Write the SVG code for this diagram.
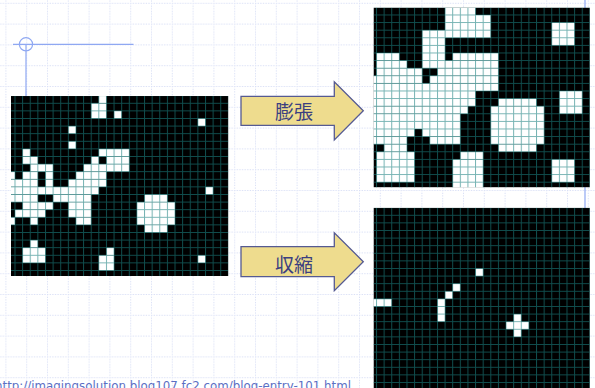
<svg xmlns="http://www.w3.org/2000/svg" width="595" height="388" viewBox="0 0 595 388">
<style>
.bk{fill:#000}
.w rect{fill:#fff}
.gl{fill:url(#gl)}
.arr{fill:#eedc8e;stroke:#555a92;stroke-width:1.3;stroke-linejoin:miter}
.lbl{font-family:"Noto Sans CJK JP","Noto Sans CJK SC",sans-serif;font-size:19px;fill:#3b3f80;text-anchor:middle}
.url{font-family:"DejaVu Sans",Verdana,sans-serif;font-size:11.8px;fill:#5b6fc4}
.blue{stroke:#8fa8f2;stroke-width:1.2;fill:none}
</style>
<defs>
<pattern id="bg" patternUnits="userSpaceOnUse" x="5.4" y="2.8" width="20.8" height="20.8">
<path d="M0.5 0V20.8M0 0.5H20.8" stroke="#d9e0f6" stroke-width="1" stroke-dasharray="1.3 1.3" fill="none"/>
</pattern>
<pattern id="gl" patternUnits="userSpaceOnUse" x="-0.5" y="-0.5" width="7.62" height="7.6">
<path d="M0.5 0V7.6M0 0.5H7.62" stroke="#1a8080" stroke-opacity="0.6" stroke-width="1" fill="none"/>
</pattern>
<clipPath id="cL"><rect x="3.62" y="0.3" width="217.4" height="180"/></clipPath>
<clipPath id="cT"><rect x="4.6" y="0.2" width="216.4" height="179.8"/></clipPath>
<clipPath id="cB"><rect x="4.6" y="0" width="216.4" height="181"/></clipPath>
</defs>
<rect width="595" height="388" fill="#fff"/>
<rect width="595" height="388" fill="url(#bg)"/>
<g id="guides">
<path class="blue" d="M13 44.3H133.5M26 44.3V97M585 0V388"/>
<circle class="blue" cx="26" cy="44.3" r="6.6"/>
</g>
<g id="original" transform="translate(7.38,95.7)" clip-path="url(#cL)">
<rect class="bk" x="3.62" y="0.3" width="217.4" height="180"/>
<g class="w" transform="scale(7.62,7.6)">
<rect x="12" y="0" width="1" height="1"/>
<rect x="11" y="1" width="2" height="2"/>
<rect x="14" y="2" width="1" height="1"/>
<rect x="25" y="3" width="1" height="1"/>
<rect x="8" y="4" width="1" height="1"/>
<rect x="8" y="6" width="1" height="1"/>
<rect x="2" y="7" width="1" height="1"/>
<rect x="12" y="7" width="4" height="1"/>
<rect x="2" y="8" width="2" height="1"/>
<rect x="11" y="8" width="1" height="1"/>
<rect x="13" y="8" width="3" height="1"/>
<rect x="3" y="9" width="3" height="1"/>
<rect x="10" y="9" width="6" height="1"/>
<rect x="0" y="10" width="1" height="1"/>
<rect x="2" y="10" width="2" height="1"/>
<rect x="5" y="10" width="1" height="1"/>
<rect x="9" y="10" width="4" height="1"/>
<rect x="0" y="11" width="4" height="1"/>
<rect x="5" y="11" width="1" height="1"/>
<rect x="8" y="11" width="5" height="1"/>
<rect x="0" y="12" width="12" height="1"/>
<rect x="26" y="12" width="1" height="1"/>
<rect x="0" y="13" width="4" height="1"/>
<rect x="6" y="13" width="5" height="1"/>
<rect x="18" y="13" width="3" height="1"/>
<rect x="2" y="14" width="4" height="1"/>
<rect x="8" y="14" width="3" height="2"/>
<rect x="17" y="14" width="5" height="3"/>
<rect x="1" y="15" width="4" height="1"/>
<rect x="0" y="16" width="1" height="1"/>
<rect x="3" y="16" width="1" height="1"/>
<rect x="9" y="16" width="2" height="1"/>
<rect x="18" y="17" width="3" height="1"/>
<rect x="3" y="19" width="1" height="1"/>
<rect x="2" y="20" width="3" height="2"/>
<rect x="13" y="20" width="1" height="1"/>
<rect x="12" y="21" width="2" height="2"/>
<rect x="25" y="21" width="1" height="1"/>
</g>
<rect class="gl" x="3.62" y="0.3" width="217.4" height="180"/>
</g>
<g id="dilated" transform="translate(368.88,7.4)" clip-path="url(#cT)">
<rect class="bk" x="4.6" y="0.2" width="216.4" height="179.8"/>
<g class="w" transform="scale(7.62,7.6)">
<rect x="10" y="0" width="4" height="1"/>
<rect x="10" y="1" width="6" height="3"/>
<rect x="24" y="2" width="3" height="3"/>
<rect x="7" y="3" width="3" height="3"/>
<rect x="1" y="6" width="3" height="1"/>
<rect x="7" y="6" width="3" height="2"/>
<rect x="11" y="6" width="6" height="1"/>
<rect x="1" y="7" width="4" height="1"/>
<rect x="10" y="7" width="7" height="1"/>
<rect x="1" y="8" width="6" height="1"/>
<rect x="9" y="8" width="8" height="1"/>
<rect x="0" y="9" width="7" height="1"/>
<rect x="8" y="9" width="9" height="1"/>
<rect x="0" y="10" width="17" height="1"/>
<rect x="0" y="11" width="14" height="2"/>
<rect x="25" y="11" width="3" height="3"/>
<rect x="17" y="12" width="5" height="1"/>
<rect x="0" y="13" width="13" height="1"/>
<rect x="16" y="13" width="7" height="5"/>
<rect x="0" y="14" width="12" height="2"/>
<rect x="0" y="16" width="6" height="1"/>
<rect x="7" y="16" width="5" height="1"/>
<rect x="0" y="17" width="5" height="1"/>
<rect x="8" y="17" width="4" height="1"/>
<rect x="2" y="18" width="3" height="1"/>
<rect x="17" y="18" width="5" height="1"/>
<rect x="1" y="19" width="5" height="4"/>
<rect x="12" y="19" width="3" height="1"/>
<rect x="11" y="20" width="4" height="4"/>
<rect x="24" y="20" width="3" height="3"/>
</g>
<rect class="gl" x="4.6" y="0.2" width="216.4" height="179.8"/>
</g>
<g id="eroded" transform="translate(368.88,207.7)" clip-path="url(#cB)">
<rect class="bk" x="4.6" y="0" width="216.4" height="181"/>
<g class="w" transform="scale(7.62,7.6)">
<rect x="14" y="8" width="1" height="1"/>
<rect x="11" y="10" width="1" height="1"/>
<rect x="10" y="11" width="1" height="1"/>
<rect x="0" y="12" width="3" height="1"/>
<rect x="9" y="12" width="1" height="3"/>
<rect x="19" y="14" width="1" height="3"/>
<rect x="18" y="15" width="3" height="1"/>
</g>
<rect class="gl" x="4.6" y="0" width="216.4" height="181"/>
</g>
<g id="connectors">
<g id="arrow-dilate">
<path class="arr" d="M241 96.3H334.3V81.7L363.3 110.8L334.3 140V125.3H241Z"/>
<text class="lbl" x="294" y="119">膨張</text>
</g>
<g id="arrow-erode">
<path class="arr" d="M241 246.7H334.3V232.7L363.3 261.7L334.3 290.7V276.7H241Z"/>
<text class="lbl" x="294" y="272">収縮</text>
</g>
</g>
<text class="url" x="-5" y="389.5" textLength="356" lengthAdjust="spacing">http://imagingsolution.blog107.fc2.com/blog-entry-101.html</text>
</svg>
